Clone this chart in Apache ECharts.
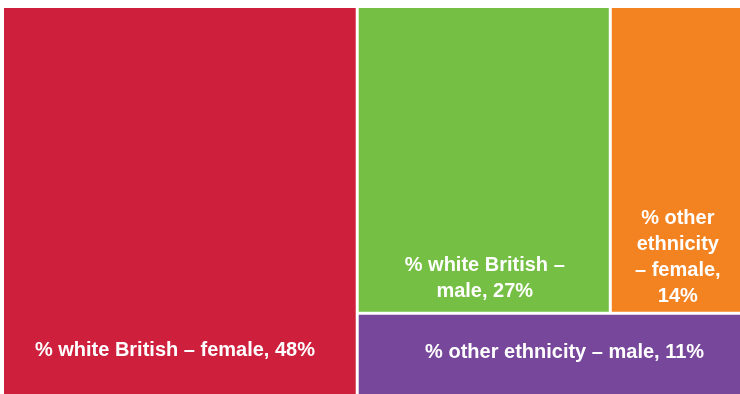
<!DOCTYPE html>
<html>
<head>
<meta charset="utf-8">
<script src="https://cdn.jsdelivr.net/npm/echarts@6/dist/echarts.min.js"></script>
<style>
  html, body { margin: 0; padding: 0; background: #ffffff; }
  #chart { width: 740px; height: 394px; }
</style>
</head>
<body>
<div id="chart"></div>
<script>
// Share of staff by ethnicity and sex (%)
const categories = [
  'white British – female',
  'white British – male',
  'other ethnicity – female',
  'other ethnicity – male'
];
const shares = [48, 27, 14, 11];
const cellLabels = [
  '% white British – female, 48%',
  '% white British –\nmale, 27%',
  '% other\nethnicity\n– female,\n14%',
  '% other ethnicity – male, 11%'
];
const cellColors = ['#CE1F3C', '#74BF44', '#F38221', '#77479B'];
// where each label sits inside its cell (x, y as fraction of the cell)
const labelAnchors = [['48.6%', '88.6%'], ['50.4%', '89.1%'], ['51.5%', '82%'], ['54%', '47.5%']];

function leaf(i) {
  return {
    name: categories[i],
    value: shares[i],
    itemStyle: { color: cellColors[i] },
    label: {
      show: true,
      formatter: cellLabels[i],
      position: labelAnchors[i],
      align: 'center',
      verticalAlign: 'middle'
    }
  };
}

function group(name, children) {
  return {
    name: name,
    value: children.reduce((s, c) => s + c.value, 0),
    label: { show: false },
    children: children
  };
}

// Female white British on its own; the rest nested so the cells stack as drawn
const treeData = [
  leaf(0),
  group('rest', [
    group('top', [leaf(1), leaf(2)]),
    leaf(3)
  ])
];

const chart = echarts.init(document.getElementById('chart'), null, { renderer: 'canvas' });
chart.setOption({
  animation: false,
  series: [{
    type: 'treemap',
    left: 4,
    top: 8,
    right: 0,
    bottom: 0,
    roam: false,
    nodeClick: false,
    sort: false,
    breadcrumb: { show: false },
    itemStyle: {
      gapWidth: 3,
      borderWidth: 0,
      borderColor: '#ffffff'
    },
    label: {
      color: '#ffffff',
      fontFamily: '"Liberation Sans", Arial, Helvetica, sans-serif',
      fontWeight: 'bold',
      fontSize: 20,
      lineHeight: 26
    },
    upperLabel: { show: false },
    emphasis: { disabled: true },
    data: treeData
  }]
});
</script>
</body>
</html>
